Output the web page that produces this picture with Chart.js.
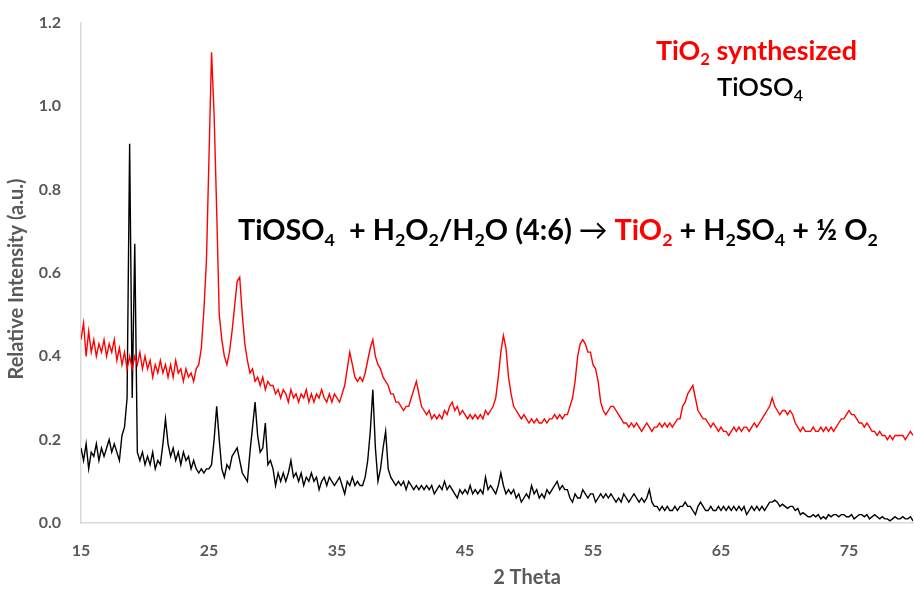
<!DOCTYPE html>
<html>
<head>
<meta charset="utf-8">
<script src="https://cdn.jsdelivr.net/npm/chart.js@4.4.1/dist/chart.umd.min.js"></script>
<style>
  body { margin: 0; background: #fff; }
  canvas { display: block; }
</style>
</head>
<body>
<canvas id="xrd" width="914" height="596"></canvas>
<script>
// 2 theta sampling: 15 -> 80 every 0.2 deg
const thetaStart = 15;
const thetaStep = 0.2;
const xTicks = [15, 25, 35, 45, 55, 65, 75];
const yTicks = [0, 0.2, 0.4, 0.6, 0.8, 1.0, 1.2];

// TiO2 synthesized (red), one row per degree
const tio2 = [
  0.44, 0.48, 0.40, 0.46, 0.41,  // 15
  0.44, 0.40, 0.43, 0.41, 0.44,
  0.40, 0.43, 0.41, 0.44, 0.39,
  0.42, 0.38, 0.41, 0.37, 0.40,
  0.37, 0.40, 0.38, 0.41, 0.37,
  0.40, 0.37, 0.39, 0.35, 0.38,  // 20
  0.36, 0.39, 0.36, 0.38, 0.35,
  0.38, 0.35, 0.39, 0.36, 0.37,
  0.34, 0.37, 0.35, 0.36, 0.34,
  0.37, 0.38, 0.42, 0.51, 0.63,
  0.88, 1.13, 0.98, 0.75, 0.50,  // 25
  0.44, 0.40, 0.38, 0.41, 0.46,
  0.52, 0.58, 0.59, 0.50, 0.43,
  0.39, 0.36, 0.37, 0.34, 0.35,
  0.33, 0.35, 0.32, 0.34, 0.33,
  0.33, 0.31, 0.32, 0.30, 0.32,  // 30
  0.31, 0.29, 0.32, 0.30, 0.31,
  0.29, 0.31, 0.30, 0.32, 0.29,
  0.31, 0.29, 0.31, 0.30, 0.32,
  0.30, 0.29, 0.31, 0.29, 0.31,
  0.30, 0.29, 0.31, 0.33, 0.37,  // 35
  0.41, 0.38, 0.35, 0.34, 0.35,
  0.34, 0.36, 0.39, 0.42, 0.44,
  0.40, 0.38, 0.37, 0.35, 0.34,
  0.33, 0.31, 0.31, 0.29, 0.29,
  0.28, 0.27, 0.28, 0.28, 0.30,  // 40
  0.32, 0.34, 0.31, 0.28, 0.27,
  0.26, 0.27, 0.25, 0.26, 0.25,
  0.26, 0.25, 0.27, 0.26, 0.28,
  0.29, 0.27, 0.28, 0.26, 0.27,
  0.26, 0.25, 0.26, 0.25, 0.26,  // 45
  0.25, 0.26, 0.25, 0.27, 0.26,
  0.27, 0.28, 0.30, 0.35, 0.41,
  0.45, 0.42, 0.35, 0.31, 0.28,
  0.27, 0.26, 0.25, 0.26, 0.25,
  0.24, 0.25, 0.24, 0.25, 0.24,  // 50
  0.24, 0.25, 0.24, 0.25, 0.25,
  0.26, 0.25, 0.26, 0.25, 0.26,
  0.26, 0.28, 0.30, 0.34, 0.40,
  0.43, 0.44, 0.43, 0.41, 0.41,
  0.38, 0.37, 0.34, 0.29, 0.27,  // 55
  0.26, 0.27, 0.28, 0.28, 0.27,
  0.26, 0.25, 0.24, 0.24, 0.23,
  0.24, 0.23, 0.24, 0.23, 0.22,
  0.23, 0.24, 0.23, 0.22, 0.23,
  0.23, 0.24, 0.23, 0.24, 0.23,  // 60
  0.24, 0.23, 0.24, 0.25, 0.25,
  0.28, 0.29, 0.31, 0.32, 0.33,
  0.30, 0.27, 0.26, 0.25, 0.25,
  0.24, 0.23, 0.24, 0.23, 0.22,
  0.23, 0.22, 0.22, 0.21, 0.22,  // 65
  0.23, 0.22, 0.23, 0.22, 0.23,
  0.23, 0.22, 0.23, 0.24, 0.23,
  0.24, 0.25, 0.26, 0.27, 0.28,
  0.30, 0.28, 0.27, 0.26, 0.27,
  0.27, 0.26, 0.27, 0.26, 0.24,  // 70
  0.23, 0.22, 0.23, 0.22, 0.22,
  0.22, 0.23, 0.22, 0.22, 0.23,
  0.22, 0.23, 0.22, 0.23, 0.22,
  0.23, 0.24, 0.25, 0.25, 0.26,
  0.27, 0.26, 0.26, 0.25, 0.24,  // 75
  0.24, 0.23, 0.24, 0.23, 0.22,
  0.22, 0.21, 0.22, 0.21, 0.21,
  0.20, 0.21, 0.20, 0.21, 0.21,
  0.21, 0.21, 0.20, 0.21, 0.22,
  0.21                           // 80
];

// TiOSO4 precursor (black)
const tioso4 = [
  0.18, 0.15, 0.19, 0.13, 0.17,  // 15
  0.16, 0.19, 0.15, 0.18, 0.16,
  0.18, 0.20, 0.17, 0.19, 0.17,
  0.15, 0.21, 0.23, 0.30, 0.91,
  0.30, 0.67, 0.17, 0.15, 0.17,
  0.14, 0.16, 0.14, 0.17, 0.13,  // 20
  0.15, 0.14, 0.19, 0.25, 0.19,
  0.16, 0.18, 0.15, 0.17, 0.14,
  0.17, 0.15, 0.16, 0.13, 0.15,
  0.13, 0.12, 0.13, 0.12, 0.13,
  0.13, 0.14, 0.20, 0.28, 0.20,  // 25
  0.13, 0.11, 0.14, 0.13, 0.16,
  0.17, 0.18, 0.15, 0.12, 0.11,
  0.10, 0.17, 0.23, 0.29, 0.21,
  0.17, 0.18, 0.24, 0.14, 0.15,
  0.13, 0.09, 0.12, 0.10, 0.12,  // 30
  0.10, 0.12, 0.15, 0.11, 0.12,
  0.10, 0.12, 0.09, 0.11, 0.10,
  0.12, 0.10, 0.11, 0.08, 0.10,
  0.11, 0.09, 0.11, 0.10, 0.09,
  0.10, 0.11, 0.09, 0.07, 0.10,  // 35
  0.09, 0.11, 0.09, 0.10, 0.09,
  0.09, 0.11, 0.15, 0.22, 0.32,
  0.18, 0.10, 0.13, 0.18, 0.22,
  0.13, 0.11, 0.10, 0.09, 0.10,
  0.09, 0.10, 0.08, 0.10, 0.09,  // 40
  0.08, 0.09, 0.08, 0.09, 0.08,
  0.09, 0.08, 0.09, 0.07, 0.08,
  0.09, 0.08, 0.10, 0.08, 0.09,
  0.08, 0.07, 0.06, 0.08, 0.07,
  0.08, 0.07, 0.09, 0.07, 0.08,  // 45
  0.07, 0.08, 0.07, 0.11, 0.08,
  0.09, 0.08, 0.07, 0.09, 0.12,
  0.09, 0.07, 0.08, 0.07, 0.08,
  0.06, 0.07, 0.05, 0.06, 0.07,
  0.06, 0.09, 0.07, 0.08, 0.06,  // 50
  0.07, 0.06, 0.08, 0.07, 0.08,
  0.09, 0.10, 0.08, 0.09, 0.08,
  0.08, 0.06, 0.05, 0.07, 0.06,
  0.06, 0.08, 0.07, 0.06, 0.07,
  0.07, 0.05, 0.06, 0.07, 0.06,  // 55
  0.07, 0.06, 0.07, 0.06, 0.05,
  0.06, 0.05, 0.07, 0.06, 0.05,
  0.06, 0.07, 0.06, 0.05, 0.06,
  0.05, 0.06, 0.08, 0.05, 0.04,
  0.04, 0.03, 0.04, 0.03, 0.04,  // 60
  0.03, 0.03, 0.04, 0.03, 0.04,
  0.04, 0.05, 0.04, 0.04, 0.03,
  0.02, 0.04, 0.05, 0.04, 0.03,
  0.03, 0.04, 0.03, 0.03, 0.04,
  0.03, 0.04, 0.03, 0.04, 0.03,  // 65
  0.04, 0.03, 0.04, 0.03, 0.04,
  0.02, 0.03, 0.04, 0.03, 0.04,
  0.03, 0.04, 0.03, 0.04, 0.05,
  0.05, 0.055, 0.05, 0.04, 0.045,
  0.04, 0.035, 0.04, 0.04, 0.03,  // 70
  0.035, 0.02, 0.025, 0.02, 0.015,
  0.015, 0.02, 0.015, 0.02, 0.01,
  0.015, 0.01, 0.02, 0.015, 0.02,
  0.02, 0.015, 0.02, 0.02, 0.015,
  0.015, 0.02, 0.01, 0.015, 0.02,  // 75
  0.02, 0.015, 0.02, 0.01, 0.015,
  0.02, 0.015, 0.01, 0.015, 0.01,
  0.01, 0.005, 0.01, 0.015, 0.01,
  0.01, 0.015, 0.01, 0.01, 0.015,
  0.005                            // 80
];

const twoTheta = tio2.map((_, i) => +(thetaStart + i * thetaStep).toFixed(1));
const toPoints = ys => ys.map((y, i) => ({ x: twoTheta[i], y: y }));

const GREY = '#595959';
const FONT = 'Lato, "Open Sans", sans-serif';

// draws a run of text pieces, some subscripted, left to right
function drawRich(ctx, parts, x, y, size) {
  parts.forEach(p => {
    const s = p.sub ? size * 0.62 : size;
    ctx.font = (p.weight || 'bold') + ' ' + s + 'px ' + FONT;
    ctx.fillStyle = p.color || '#000';
    ctx.fillText(p.t, x, p.sub ? y + size * 0.2 : y);
    x += ctx.measureText(p.t).width;
  });
}
function richWidth(ctx, parts, size) {
  let w = 0;
  parts.forEach(p => {
    const s = p.sub ? size * 0.62 : size;
    ctx.font = (p.weight || 'bold') + ' ' + s + 'px ' + FONT;
    w += ctx.measureText(p.t).width;
  });
  return w;
}
// pick a font size so the run is as wide as in the picture
function fitSize(ctx, parts, width) {
  return 20 * width / richWidth(ctx, parts, 20);
}

const equation = [
  { t: 'TiOSO' }, { t: '4', sub: true }, { t: '  + H' }, { t: '2', sub: true },
  { t: 'O' }, { t: '2', sub: true }, { t: '/H' }, { t: '2', sub: true },
  { t: 'O (4:6) ' }, { t: '\u2192', weight: 'normal' }, { t: ' ' },
  { t: 'TiO', color: '#ff0000' }, { t: '2', sub: true, color: '#ff0000' },
  { t: ' + H' }, { t: '2', sub: true }, { t: 'SO' }, { t: '4', sub: true },
  { t: ' + \u00bd O' }, { t: '2', sub: true }
];
const redLabel = [
  { t: 'TiO', color: '#ff0000' }, { t: '2', sub: true, color: '#ff0000' },
  { t: ' synthesized', color: '#ff0000' }
];
const blackLabel = [{ t: 'TiOSO', weight: '600' }, { t: '4', sub: true, weight: '600' }];

const textPlugin = {
  id: 'texts',
  afterDraw(chart) {
    const ctx = chart.ctx;
    ctx.save();
    ctx.textBaseline = 'alphabetic';
    ctx.textAlign = 'left';

    let s = fitSize(ctx, equation, 640);
    drawRich(ctx, equation, 238, 240, s);

    s = fitSize(ctx, redLabel, 201);
    drawRich(ctx, redLabel, 656, 60, s);
    s = fitSize(ctx, blackLabel, 86);
    drawRich(ctx, blackLabel, 717, 96, s);

    // axis titles
    ctx.fillStyle = GREY;
    ctx.font = 'bold 20px ' + FONT;
    ctx.textAlign = 'center';
    ctx.textBaseline = 'middle';
    ctx.fillText('2 Theta', 527, 578);
    ctx.translate(17, 279);
    ctx.rotate(-Math.PI / 2);
    ctx.fillText('Relative Intensity (a.u.)', 0, 0);
    ctx.restore();
  }
};

new Chart(document.getElementById('xrd'), {
  type: 'line',
  data: {
    datasets: [
      { label: 'TiO2 synthesized', data: toPoints(tio2), borderColor: '#ff0000', borderWidth: 1.4, pointRadius: 0, tension: 0 },
      { label: 'TiOSO4', data: toPoints(tioso4), borderColor: '#000000', borderWidth: 1.4, pointRadius: 0, tension: 0 }
    ]
  },
  options: {
    responsive: false,
    animation: false,
    devicePixelRatio: 1,
    layout: { padding: { left: 0, right: 1, top: 23, bottom: 0 } },
    plugins: { legend: { display: false }, tooltip: { enabled: false } },
    scales: {
      x: {
        type: 'linear',
        min: 15,
        max: 80,
        grid: { display: false, drawTicks: false },
        border: { display: true, color: '#d9d9d9', width: 1.5 },
        afterBuildTicks: scale => { scale.ticks = xTicks.map(v => ({ value: v })); },
        afterFit: scale => { scale.height = 73; },
        ticks: { color: GREY, padding: 18, maxRotation: 0, font: { family: FONT, size: 16, weight: 'bold' } }
      },
      y: {
        min: 0,
        max: 1.2,
        grid: { display: false, drawTicks: false },
        border: { display: true, color: '#d9d9d9', width: 1.5 },
        afterBuildTicks: scale => { scale.ticks = yTicks.map(v => ({ value: v })); },
        afterFit: scale => {
          scale.width = 81;
          // tick padding would otherwise push the plot top down
          scale.paddingTop = 0;
          scale.paddingBottom = 0;
        },
        ticks: {
          color: GREY, padding: 20,
          font: { family: FONT, size: 16, weight: 'bold' },
          callback: v => v.toFixed(1)
        }
      }
    }
  },
  plugins: [textPlugin]
});
</script>
</body>
</html>
